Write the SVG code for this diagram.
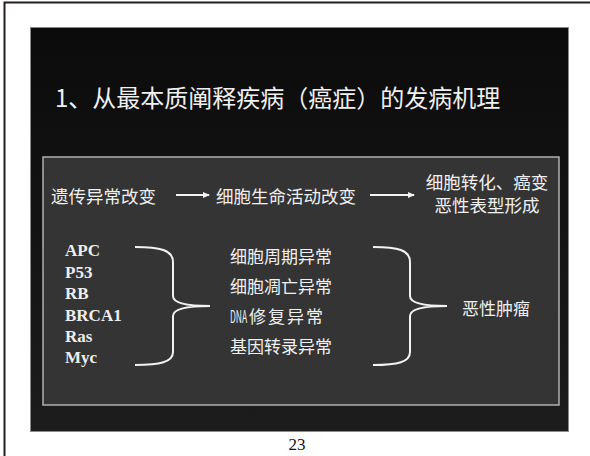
<svg xmlns="http://www.w3.org/2000/svg" width="590" height="456" viewBox="0 0 590 456">
<defs>
<linearGradient id="slideBg" x1="0" y1="0" x2="0" y2="1">
<stop offset="0" stop-color="#0b0b0b"/>
<stop offset="1" stop-color="#1c1c1c"/>
</linearGradient>
<marker id="arr" markerWidth="8" markerHeight="8" refX="6" refY="4" orient="auto" markerUnits="userSpaceOnUse">
<path d="M0,1 L7,4 L0,7 Z" fill="#f2f2f2"/>
</marker>
<style>
.cjk{font-family:"Noto Sans CJK SC","Noto Sans",sans-serif;fill:#f0f0f0;}
.gene{font-family:"Liberation Serif",serif;font-weight:bold;font-size:17px;fill:#eeeeee;}
.brace{fill:none;stroke:#f2f2f2;stroke-width:2;}
.arrow{stroke:#f2f2f2;stroke-width:2;marker-end:url(#arr);}
</style>
</defs>
<rect width="590" height="456" fill="#ffffff"/>
<path d="M4.5,456 V2.5 H590" fill="none" stroke="#231f20" stroke-width="2"/>
<rect id="slide" x="30.5" y="27.5" width="538" height="404" fill="url(#slideBg)" stroke="#8a8a8a" stroke-width="1"/>
<g id="title">
<text class="cjk" x="55" y="107" font-size="24">1、从最本质阐释疾病（癌症）的发病机理</text>
</g>
<rect id="panel" x="43" y="157" width="516" height="248" fill="#343434" stroke="#b0b0b0" stroke-width="1.5"/>
<g id="n-genetic"><text class="cjk" x="51" y="203" font-size="17.5">遗传异常改变</text></g>
<g id="n-cell"><text class="cjk" x="216" y="203" font-size="17.5">细胞生命活动改变</text></g>
<g id="n-transform">
<text class="cjk" x="487" y="189" font-size="17.5" text-anchor="middle">细胞转化、癌变</text>
<text class="cjk" x="487" y="212" font-size="17.5" text-anchor="middle">恶性表型形成</text>
</g>
<g id="n-genes">
<text class="gene" x="65" y="256">APC</text>
<text class="gene" x="65" y="277.5">P53</text>
<text class="gene" x="65" y="299">RB</text>
<text class="gene" x="65" y="320.5">BRCA1</text>
<text class="gene" x="65" y="342">Ras</text>
<text class="gene" x="65" y="363">Myc</text>
</g>
<g id="n-abnormal">
<text class="cjk" x="230" y="263" font-size="17">细胞周期异常</text>
<text class="cjk" x="230" y="293" font-size="17">细胞凋亡异常</text>
<text class="cjk" x="0" y="0" font-size="17" transform="translate(230,323) scale(0.5,1)">DNA</text>
<text class="cjk" x="249" y="323" font-size="17" letter-spacing="2">修复异常</text>
<text class="cjk" x="230" y="353" font-size="17">基因转录异常</text>
</g>
<g id="n-tumor"><text class="cjk" x="462" y="315" font-size="17">恶性肿瘤</text></g>
<g id="connectors">
<line class="arrow" x1="176" y1="195" x2="209" y2="195"/>
<line class="arrow" x1="370" y1="195" x2="414" y2="195"/>
<path class="brace" d="M135,247 C160,247 173,250 173,262 L173,296 C173,303 185,306 210,306 C185,306 173,309 173,316 L173,352 C173,362 160,365 135,365"/>
<path class="brace" d="M373,247 C398,247 410,250 410,262 L410,296 C410,303 422,306 447,306 C422,306 410,309 410,316 L410,352 C410,362 398,365 373,365"/>
</g>
<text x="297" y="450" font-family="Liberation Serif,serif" font-size="17" text-anchor="middle" fill="#111">23</text>
</svg>
